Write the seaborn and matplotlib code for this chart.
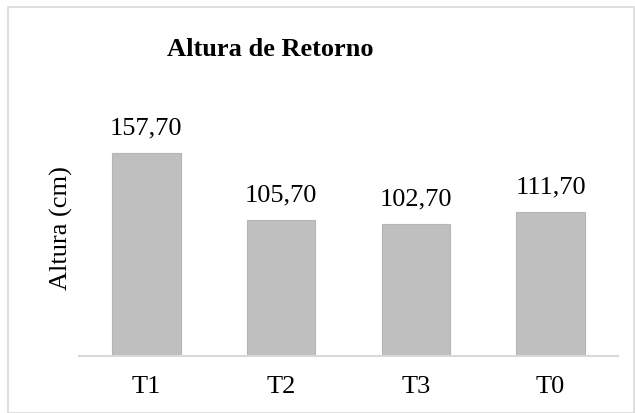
import matplotlib
matplotlib.use('Agg')
import matplotlib.pyplot as plt
import matplotlib.patches as patches
import pandas as pd
import seaborn as sns

tratamentos = ['T1', 'T2', 'T3', 'T0']
alturas = [157.70, 105.70, 102.70, 111.70]

df = pd.DataFrame({'Tratamento': tratamentos, 'Altura': alturas})

sns.set_style(style='white')
plt.rcParams['font.family'] = ['Liberation Serif', 'DejaVu Serif']
plt.rcParams['text.color'] = 'black'
plt.rcParams['axes.labelcolor'] = 'black'
plt.rcParams['xtick.color'] = 'black'

fig = plt.figure(figsize=(6.35, 4.14), dpi=100)
ax = fig.add_axes([79 / 635, 57 / 414, 539 / 635, 257.4 / 414])

sns.barplot(data=df, x='Tratamento', y='Altura', color='#bfbfbf', saturation=1,
            width=0.51, edgecolor='#b5b5b5', linewidth=0.8, ax=ax)

ax.set_ylim(0, 200)
ax.set_xlim(-0.5, 3.5)

# value labels above the bars (comma decimal)
for i, v in enumerate(alturas):
    ax.annotate(f'{v:.2f}'.replace('.', ','), (i, v), xytext=(0, 10.5),
                textcoords='offset points', ha='center', va='bottom', fontsize=19)

for s in ['top', 'right', 'left']:
    ax.spines[s].set_visible(False)
ax.spines['bottom'].set_color('#d9d9d9')
ax.spines['bottom'].set_linewidth(1.5)
ax.set_yticks([])
ax.tick_params(axis='x', length=0, labelsize=19, pad=14)

ax.set_xlabel('')
ax.set_ylabel('Altura (cm)', fontsize=19, labelpad=4)

fig.text(270 / 635, 1 - 50 / 414, 'Altura de Retorno', ha='center', va='center',
         fontsize=19, fontweight='bold')

# outer chart border
fig.patches.append(patches.Rectangle((8 / 635, 0.001), 1 - 8 / 635 - 0.002, 1 - 8 / 414 - 0.001,
                                     transform=fig.transFigure, fill=False,
                                     edgecolor='#d9d9d9', linewidth=1.2))

fig.savefig('out.png', dpi=100)
